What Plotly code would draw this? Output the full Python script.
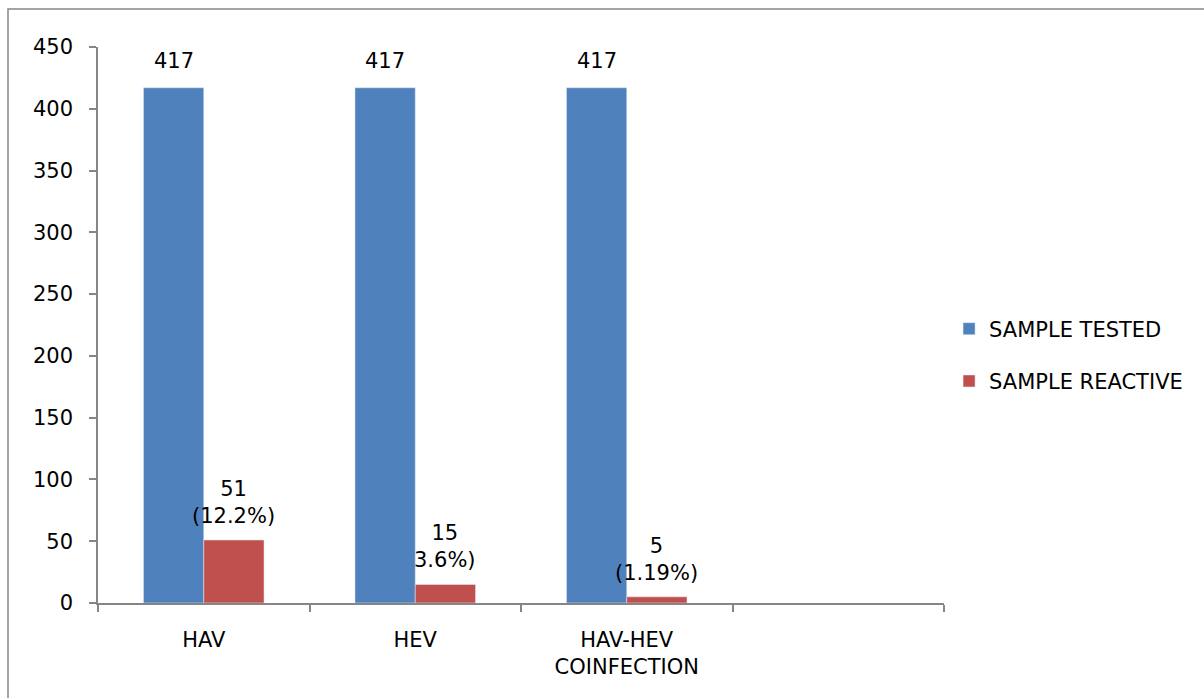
import plotly.graph_objects as go

# Data
categories = ["HAV", "HEV", "HAV-HEV<br>COINFECTION", " "]
tested = [417, 417, 417, None]
reactive = [51, 15, 5, None]
tested_labels = ["417", "417", "417"]
reactive_labels = ["51<br>(12.2%)", "15<br>3.6%)", "5<br>(1.19%)"]
series_names = ["SAMPLE TESTED", "SAMPLE REACTIVE"]
y_ticks = list(range(0, 451, 50))

# Styling
BLUE = "#4F81BD"
RED = "#C0504D"
AXIS = "#868686"
FONT = "DejaVu Sans"
FS = 21
W, H = 1204, 698
M = dict(l=98, r=260, t=47, b=95)
BARGAP = 0.43

fig = go.Figure()
fig.add_trace(go.Bar(x=categories, y=tested, name=series_names[0],
                     marker_color=BLUE, legendgroup="a"))
fig.add_trace(go.Bar(x=categories, y=reactive, name=series_names[1],
                     marker_color=RED, legendgroup="b"))

# Data labels above each bar
plot_w = W - M["l"] - M["r"]
bar_w = plot_w / len(categories) * (1 - BARGAP) / 2
annotations = []
for cat, val, lab in zip(categories, tested, tested_labels):
    annotations.append(dict(x=cat, y=val, text=lab, xshift=-bar_w / 2,
                            yanchor="bottom", yshift=13, showarrow=False,
                            font=dict(family=FONT, size=FS, color="black")))
for cat, val, lab in zip(categories, reactive, reactive_labels):
    annotations.append(dict(x=cat, y=val, text=lab, xshift=bar_w / 2,
                            yanchor="bottom", yshift=10, showarrow=False,
                            font=dict(family=FONT, size=FS, color="black")))

# Outer chart frame
px_x = lambda p: (p - M["l"]) / plot_w
plot_h = H - M["t"] - M["b"]
px_y = lambda p: (H - M["b"] - p) / plot_h
frame = dict(type="rect", xref="paper", yref="paper",
             x0=px_x(8), x1=px_x(W + 20), y0=px_y(H + 20), y1=px_y(9),
             line=dict(color=AXIS, width=1.5), fillcolor="rgba(0,0,0,0)",
             layer="below")

fig.update_layout(
    width=W, height=H, margin=M,
    paper_bgcolor="white", plot_bgcolor="white",
    barmode="group", bargap=BARGAP, bargroupgap=0,
    font=dict(family=FONT, size=FS, color="black"),
    annotations=annotations,
    shapes=[frame],
    legend=dict(x=1.006, y=0.446, xanchor="left", yanchor="middle",
                tracegroupgap=22, font=dict(family=FONT, size=FS, color="black"),
                bgcolor="rgba(0,0,0,0)"),
    xaxis=dict(type="category", categoryorder="array", categoryarray=categories,
               showline=True, linecolor=AXIS, linewidth=1.5,
               ticks="outside", tickson="boundaries", ticklen=7,
               tickcolor=AXIS, tickwidth=1.5, showgrid=False,
               ticklabelstandoff=17, tickfont=dict(family=FONT, size=FS)),
    yaxis=dict(range=[0, 450], tickvals=y_ticks, showline=True, linecolor=AXIS,
               linewidth=1.5, ticks="outside", ticklen=7, tickcolor=AXIS,
               tickwidth=1.5, showgrid=False, zeroline=False,
               ticklabelstandoff=12, tickfont=dict(family=FONT, size=FS)),
)

fig.write_html("out.html")
